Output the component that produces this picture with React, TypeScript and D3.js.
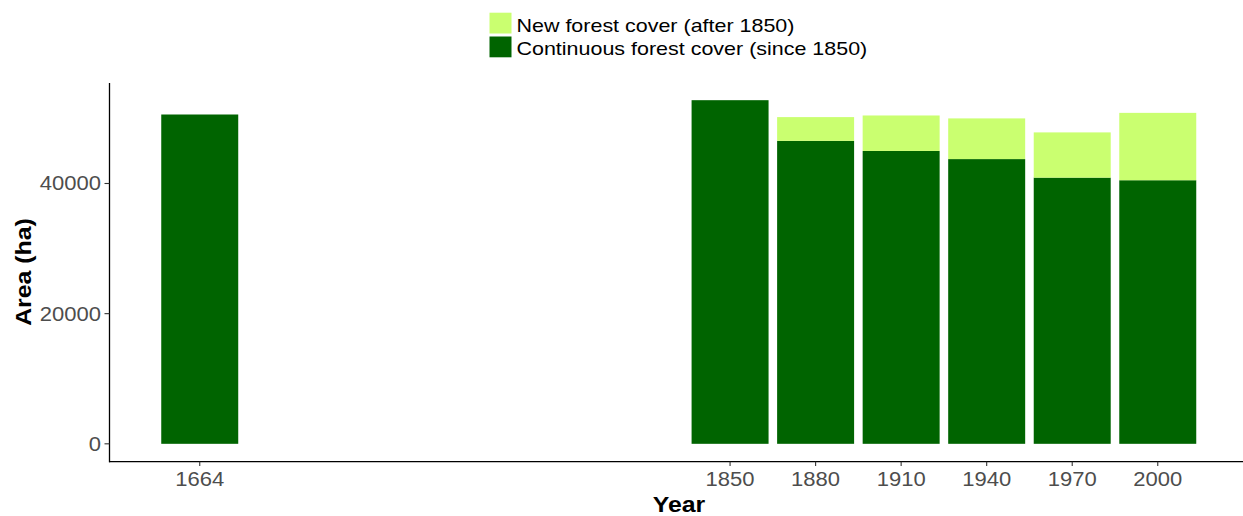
import React from "react";
import * as d3 from "d3";

const years = [1664, 1850, 1880, 1910, 1940, 1970, 2000];
const continuous = [50600, 52800, 46550, 45000, 43750, 40900, 40500];
const newCover = [0, 0, 3650, 5450, 6250, 6950, 10350];
const yTicks = [0, 20000, 40000];
const seriesNames = ["New forest cover (after 1850)", "Continuous forest cover (since 1850)"];
const colors = { newCover: "#CAFF70", continuous: "#006400" };

const W = 1243;
const H = 516;
const SX = 1.13; // horizontal stretch of text seen in reference
const FONT = "'Liberation Sans', Arial, sans-serif";

function T({ x, y, size, anchor = "start", weight = "normal", fill = "#000", rotate = 0, children }: any) {
  return (
    <text
      transform={`translate(${x},${y}) rotate(${rotate}) scale(${SX},1)`}
      fontSize={size}
      fontFamily={FONT}
      fontWeight={weight}
      textAnchor={anchor}
      fill={fill}
    >
      {children}
    </text>
  );
}

export default function App() {
  const barW = 27;
  const x = d3.scaleLinear().domain([1632.35, 2031.65]).range([109.5, 1248]);
  const y = d3.scaleLinear().domain([-2640, 55440]).range([461, 83]);
  const data = years.map((yr, i) => ({ yr, c: continuous[i], n: newCover[i] }));
  const stack = d3.stack<any>().keys(["c", "n"])(data);

  return (
    <svg width={W} height={H} style={{ position: "absolute", left: 0, top: 0, background: "#fff" }}>
      <rect width={W} height={H} fill="#fff" />
      {/* bars */}
      {stack.map((layer, li) =>
        layer.map((d, i) => {
          const yr = years[i];
          const x0 = x(yr - barW / 2);
          const x1 = x(yr + barW / 2);
          const top = y(d[1]);
          const bot = y(d[0]);
          if (bot - top <= 0) return null;
          return (
            <rect
              key={`${li}-${i}`}
              x={x0}
              y={top}
              width={x1 - x0}
              height={bot - top}
              fill={li === 0 ? colors.continuous : colors.newCover}
            />
          );
        })
      )}
      {/* axes */}
      <line x1={109.5} x2={109.5} y1={83} y2={462.3} stroke="#000" strokeWidth={1.3} />
      <line x1={109} x2={W} y1={461.7} y2={461.7} stroke="#000" strokeWidth={1.3} />
      {yTicks.map((t) => (
        <g key={t}>
          <line x1={104.5} x2={109.5} y1={y(t)} y2={y(t)} stroke="#333" strokeWidth={1.1} />
          <T x={101} y={y(t) + 7} size={19.5} anchor="end" fill="#4D4D4D">
            {t}
          </T>
        </g>
      ))}
      {years.map((yr) => (
        <g key={yr}>
          <line x1={x(yr)} x2={x(yr)} y1={461.7} y2={466} stroke="#333" strokeWidth={1.1} />
          <T x={x(yr)} y={486} size={19.5} anchor="middle" fill="#4D4D4D">
            {yr}
          </T>
        </g>
      ))}
      {/* axis titles */}
      <T x={679} y={512} size={22} anchor="middle" weight="bold">
        Year
      </T>
      <T x={31} y={272} size={22} anchor="middle" weight="bold" rotate={-90}>
        Area (ha)
      </T>
      {/* legend */}
      <rect x={489.5} y={12.7} width={22} height={20.8} fill={colors.newCover} />
      <rect x={489.5} y={36.5} width={22} height={20.8} fill={colors.continuous} />
      <T x={516.5} y={31.5} size={19} anchor="start">
        {seriesNames[0]}
      </T>
      <T x={516.5} y={55.3} size={19} anchor="start">
        {seriesNames[1]}
      </T>
    </svg>
  );
}
